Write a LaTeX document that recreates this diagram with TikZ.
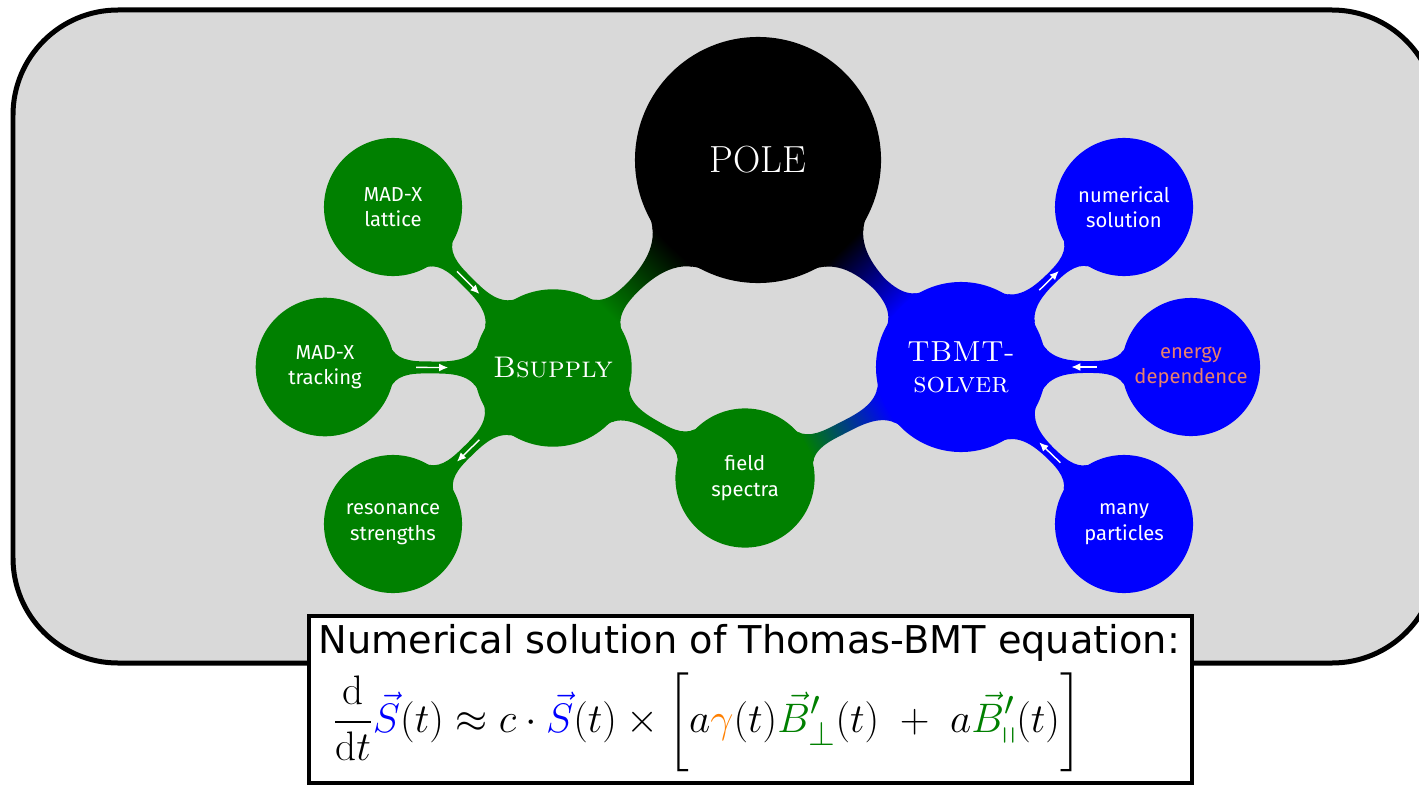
\documentclass[tikz,border=0pt]{standalone}
\usepackage{amsmath,amssymb}
\usepackage{graphicx}
\usepackage{xcolor}
\usepackage{fontspec}
\setsansfont{DejaVu Sans}
\newfontfamily\leaffont{Fira Sans}
\usetikzlibrary{mindmap, backgrounds, calc, arrows.meta}
\definecolor{slidegray}{HTML}{D9D9D9}
\definecolor{mygreen}{RGB}{0,128,0}
\definecolor{myblue}{RGB}{0,0,255}
\definecolor{myorange}{RGB}{255,128,0}
\definecolor{mysalmon}{RGB}{232,128,108}
\tikzset{
  >=latex,
  % concepts of the mind map
  concept main/.style={concept color=black,concept,text=white,minimum size=4.88cm,
    font=\rmfamily\fontsize{21.5}{24}\selectfont},
  concept tool/.style={concept,text=white,text width=3cm,align=center},
  concept leaf/.style={concept,text=white,minimum size=2.72cm,text width=2.5cm,align=center,
    font=\leaffont\fontsize{11.5}{14.5}\selectfont},
  concept green/.style={concept color=mygreen},
  concept blue/.style={concept color=myblue},
  % small arrows on the bars
  flow arrow/.style={-{Latex[length=1.8mm,width=1.6mm]},white,line width=0.8pt}
}

\begin{document}
\begin{tikzpicture}[x=0.02cm,y=-0.02cm]
  \useasboundingbox (0,0) rectangle (1419,784);
  \begin{scope}[mindmap]
  % centre
  \node[concept main] (pole) at (758,160) {POLE};
  % left branch
  \node[concept green,concept tool,minimum size=3.04cm,font=\rmfamily\fontsize{17}{20}\selectfont]
    (bsupply) at (553,368) {\textsc{Bsupply}};
  \node[concept green,concept leaf] (madxlat) at (393,207) {MAD-X\\lattice};
  \node[concept green,concept leaf] (madxtrack) at (325,367) {MAD-X\\tracking};
  \node[concept green,concept leaf] (resonance) at (393,524) {resonance\\strengths};
  \node[concept green,concept leaf] (fieldspec) at (745,478) {field\\spectra};
  % right branch
  \node[concept blue,concept tool,minimum size=3.36cm,font=\rmfamily\fontsize{16.5}{19.5}\selectfont]
    (tbmt) at (961,367) {\textsc{TBMT-}\\[-2pt]\textsc{solver}};
  \node[concept blue,concept leaf] (numsol) at (1124,207) {numerical\\solution};
  \node[concept blue,concept leaf,text=mysalmon] (energy) at (1191,367) {energy\\dependence};
  \node[concept blue,concept leaf] (many) at (1124,524) {many\\particles};

  \begin{scope}[on background layer]
    \draw[fill=slidegray,line width=0.1cm,rounded corners=2.1cm] (13,10) rectangle (1437,663);
    \path (pole) to[circle connection bar switch color=from (black) to (mygreen)] (bsupply);
    \path (pole) to[circle connection bar switch color=from (black) to (myblue)] (tbmt);
    \path (madxlat) to[circle connection bar switch color=from (mygreen) to (mygreen)] (bsupply);
    \path (madxtrack) to[circle connection bar switch color=from (mygreen) to (mygreen)] (bsupply);
    \path (bsupply) to[circle connection bar switch color=from (mygreen) to (mygreen)] (resonance);
    \path (bsupply) to[circle connection bar switch color=from (mygreen) to (mygreen)] (fieldspec);
    \path (fieldspec) to[circle connection bar switch color=from (mygreen) to (myblue)] (tbmt);
    \path (tbmt) to[circle connection bar switch color=from (myblue) to (myblue)] (numsol);
    \path (energy) to[circle connection bar switch color=from (myblue) to (myblue)] (tbmt);
    \path (many) to[circle connection bar switch color=from (myblue) to (myblue)] (tbmt);
  \end{scope}
  \end{scope}

  % flow directions
  \draw[flow arrow] ($(madxlat)!0.40!(bsupply)$) -- ($(madxlat)!0.54!(bsupply)$);
  \draw[flow arrow] ($(madxtrack)!0.40!(bsupply)$) -- ($(madxtrack)!0.54!(bsupply)$);
  \draw[flow arrow] ($(bsupply)!0.46!(resonance)$) -- ($(bsupply)!0.60!(resonance)$);
  \draw[flow arrow] ($(tbmt)!0.48!(numsol)$) -- ($(tbmt)!0.60!(numsol)$);
  \draw[flow arrow] ($(energy)!0.41!(tbmt)$) -- ($(energy)!0.52!(tbmt)$);
  \draw[flow arrow] ($(many)!0.39!(tbmt)$) -- ($(many)!0.52!(tbmt)$);

  % equation box
  \node[draw=black,line width=0.08cm,fill=white,anchor=north west,inner sep=0,
    minimum width=17.66cm,minimum height=3.34cm] (eqbox) at (307,614) {};
  \node[anchor=base west,inner sep=0,font=\sffamily\fontsize{21.8}{26}\selectfont] (eqhead) at (318,653)
    {Numerical solution of Thomas-BMT equation:};
  \node[anchor=west,inner sep=0,font=\fontsize{24.88}{30}\selectfont] (eq) at (333,722)
    {\scalebox{0.943}{$\displaystyle \frac{\mathrm{d}}{\mathrm{d}t}\textcolor{myblue}{\vec{S}}(t)\approx c\cdot\textcolor{myblue}{\vec{S}}(t)\times\biggl[a\textcolor{myorange}{\gamma}(t)\textcolor{mygreen}{\vec{B}'_{\perp}}(t)\;+\;a\textcolor{mygreen}{\vec{B}'_{\shortparallel}}(t)\biggr]$}};
\end{tikzpicture}
\end{document}
